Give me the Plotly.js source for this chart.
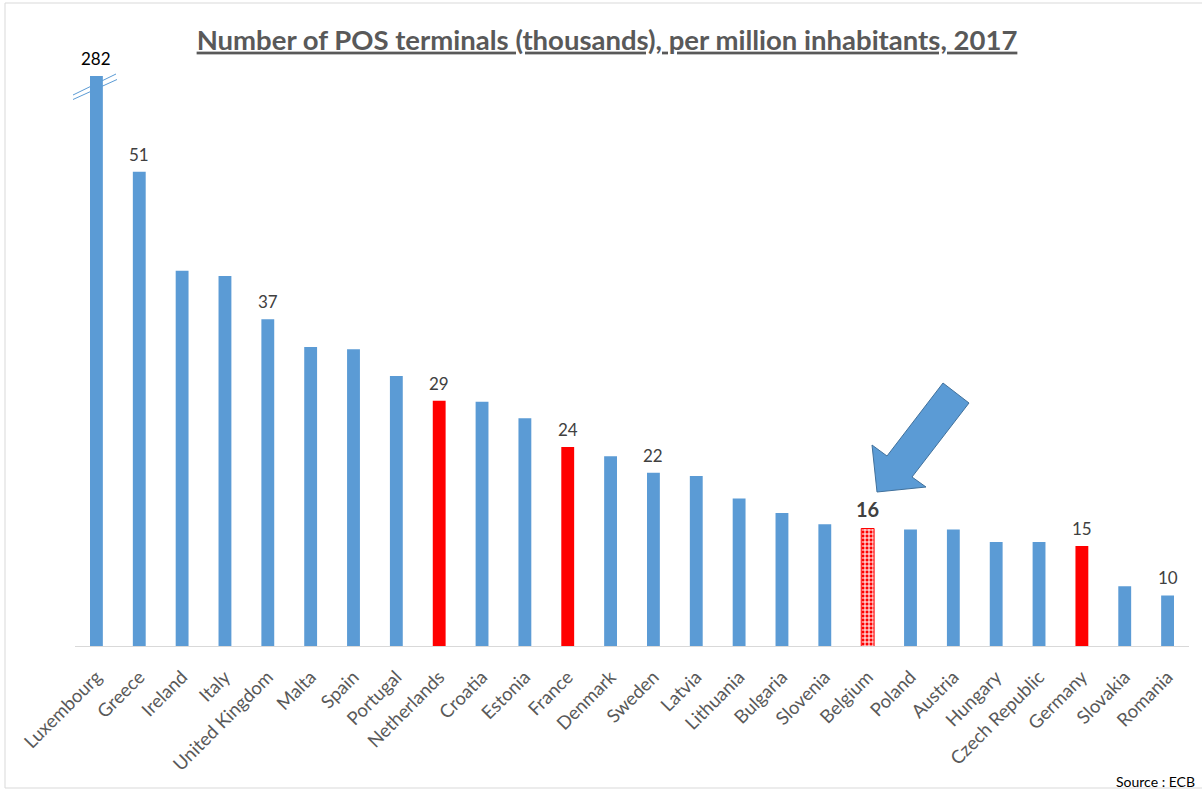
<!DOCTYPE html>
<html>
<head>
<meta charset="utf-8">
<script src="https://cdn.plot.ly/plotly-3.0.1.min.js"></script>
<style>html,body{margin:0;padding:0;background:#fff;}#chart{width:1202px;height:790px;}</style>
</head>
<body>
<div id="chart"></div>
<script>
// ---- data ----
const countries = ['Luxembourg','Greece','Ireland','Italy','United Kingdom','Malta','Spain','Portugal','Netherlands','Croatia','Estonia','France','Denmark','Sweden','Latvia','Lithuania','Bulgaria','Slovenia','Belgium','Poland','Austria','Hungary','Czech Republic','Germany','Slovakia','Romania'];
const values = [282, 51.0, 41.4, 40.9, 36.7, 34.0, 33.8, 31.2, 28.8, 28.7, 27.1, 24.3, 23.4, 21.8, 21.5, 19.3, 17.9, 16.8, 16.4, 16.3, 16.3, 15.1, 15.1, 14.7, 10.8, 9.9];
const labelledCountries = ['Luxembourg','Greece','United Kingdom','Netherlands','France','Sweden','Belgium','Germany','Romania'];
const redCountries = ['Netherlands','France','Germany'];
const focusCountry = 'Belgium';
const titleText = 'Number of POS terminals (thousands), per million inhabitants, 2017';
const sourceText = 'Source : ECB';

// ---- axis settings ----
const AXIS_MIN = 5;
const AXIS_CAP = 60.3; // broken-axis cap for Luxembourg

const BLUE = '#5b9bd5', RED = '#ff0000';
const display = values.map(v => Math.min(v, AXIS_CAP));

const normal = {x: [], y: [], color: []};
countries.forEach((c, i) => {
  if (c === focusCountry) return;
  normal.x.push(c); normal.y.push(display[i]);
  normal.color.push(redCountries.includes(c) ? RED : BLUE);
});
const fi = countries.indexOf(focusCountry);

const traces = [
  {type: 'bar', x: normal.x, y: normal.y, marker: {color: normal.color, line: {width: 0}}, hoverinfo: 'x+y', showlegend: false},
  {type: 'bar', x: [focusCountry], y: [display[fi]],
   marker: {color: RED, line: {color: RED, width: 1}, pattern: {shape: '+', bgcolor: RED, fgcolor: '#ffffff', size: 4, solidity: 0.45, fillmode: 'replace'}},
   showlegend: false}
];

const L = 75, R = 13, T = 76, B = 144, W = 1202, H = 790;
const pw = W - L - R, ph = H - T - B;
const px = x => (x - L) / pw;
const py = y => (H - B - y) / ph;

const annotations = labelledCountries.map(c => {
  const i = countries.indexOf(c);
  const isLux = values[i] > AXIS_CAP;
  const isFocus = c === focusCountry;
  return {
    x: c, y: display[i], xref: 'x', yref: 'y', yanchor: 'bottom', showarrow: false,
    text: isFocus ? '<b>' + Math.round(values[i]) + '</b>' : String(Math.round(values[i])),
    yshift: isFocus ? 6 : 5,
    font: {family: 'Lato, "Open Sans", sans-serif', size: isFocus ? 20 : 17, color: isLux ? '#000000' : '#404040'}
  };
});
annotations.push({
  xref: 'paper', yref: 'paper', x: px(1197), y: py(781), xanchor: 'right', yanchor: 'middle',
  showarrow: false, text: sourceText, font: {family: 'Lato, sans-serif', size: 14, color: '#000000'}
});

function pathFrom(pts) {
  return 'M ' + pts.map(p => px(p[0]) + ',' + py(p[1])).join(' L ') + ' Z';
}
const arrowPts = [[877,492],[872,445],[887,456],[943,383],[969,403],[912,477],[926,487]];

const shapes = [
  {type: 'rect', xref: 'paper', yref: 'paper', x0: px(5), x1: px(1215), y0: py(788), y1: py(3), line: {color: '#d9d9d9', width: 1}, fillcolor: 'rgba(0,0,0,0)', layer: 'below'},
  {type: 'path', xref: 'paper', yref: 'paper', path: pathFrom(arrowPts), fillcolor: BLUE, line: {color: '#41719c', width: 1}},
  {type: 'line', xref: 'paper', yref: 'paper', x0: px(73), y0: py(95), x1: px(116), y1: py(74), line: {color: BLUE, width: 1}},
  {type: 'line', xref: 'paper', yref: 'paper', x0: px(73), y0: py(99.5), x1: px(117), y1: py(79.5), line: {color: BLUE, width: 1}}
];

const layout = {
  width: W, height: H,
  margin: {l: L, r: R, t: T, b: B, pad: 0},
  paper_bgcolor: '#ffffff', plot_bgcolor: '#ffffff',
  bargap: 0.7,
  title: {text: '<b><u>' + titleText + '</u></b>', x: px(607), xref: 'paper', xanchor: 'center', y: 1 - 40 / H, yanchor: 'middle',
          font: {family: 'Lato, "Open Sans", sans-serif', size: 27.5, color: '#595959'}},
  xaxis: {type: 'category', categoryorder: 'array', categoryarray: countries, tickangle: -45, showgrid: false, zeroline: false, showline: true, linecolor: '#d9d9d9', linewidth: 1,
          ticks: '', ticklabelstandoff: 12, tickfont: {family: 'Lato, "Open Sans", sans-serif', size: 18.5, color: '#595959'}, fixedrange: true},
  yaxis: {range: [AXIS_MIN, AXIS_CAP], visible: false, showgrid: false, zeroline: false, fixedrange: true},
  annotations: annotations,
  shapes: shapes,
  font: {family: 'Lato, sans-serif'}
};

Plotly.newPlot('chart', traces, layout, {displayModeBar: false, staticPlot: true});
</script>
</body>
</html>
